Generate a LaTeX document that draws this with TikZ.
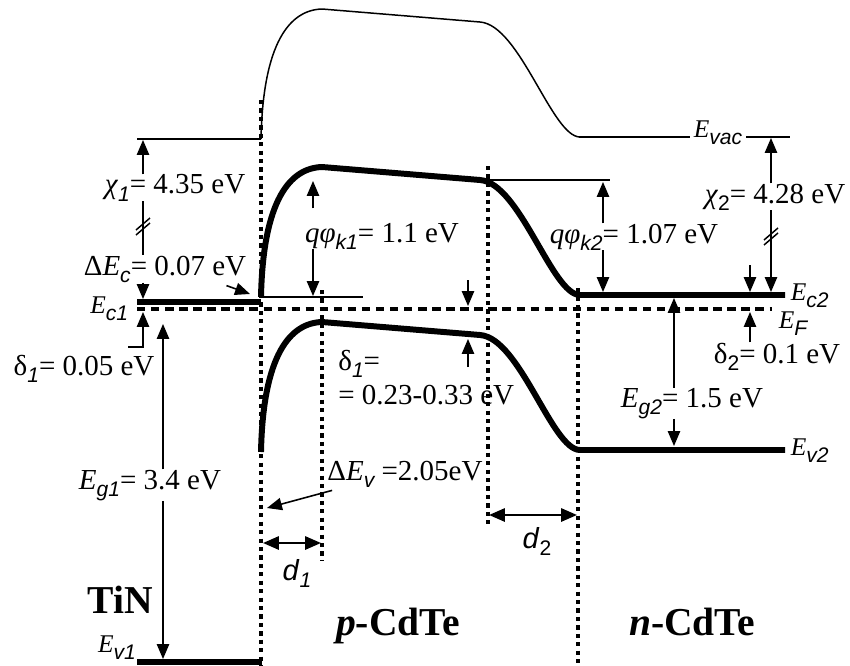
\documentclass[tikz,border=0pt]{standalone}
\usepackage{fontspec}
\setmainfont{Liberation Serif}
\setsansfont{Liberation Sans}
\usetikzlibrary{arrows.meta,positioning}
\newcommand{\sub}[1]{\raisebox{-4pt}{\fontsize{12}{12}\selectfont\sffamily\itshape #1}}
\newcommand{\subup}[1]{\raisebox{-4pt}{\fontsize{12}{12}\selectfont\sffamily #1}}

\begin{document}
\begin{tikzpicture}[
  x=0.02cm, y=-0.02cm,
  lbl/.style={inner sep=0pt, anchor=base, font=\fontsize{16.5}{19.5}\selectfont},
  lvl/.style={inner ysep=0pt, inner xsep=2pt, font=\fontsize{14.5}{16}\selectfont},
  region/.style={inner sep=0pt, anchor=base, font=\fontsize{22.5}{25}\selectfont\bfseries},
  thinline/.style={line width=0.85pt},
  bandline/.style={line width=3.4pt},
  fermi/.style={line width=1.9pt, dash pattern=on 4.8pt off 3.2pt},
  guide/.style={line width=1.9pt, dash pattern=on 2.4pt off 2.4pt},
  arr/.style={line width=0.9pt, -{Triangle[length=8.5pt,width=7pt]}},
  dbl/.style={line width=1.2pt, {Triangle[length=9pt,width=7.5pt]}-{Triangle[length=9pt,width=7.5pt]}},
  bandpath/.style={insert path={(261,297) .. controls (263,200) and (290,168) .. (322,167) -- (480,180) .. controls (520,183) and (552,295) .. (580,295)}}
]
\useasboundingbox (0,0) rectangle (850,666);
\draw[guide] (261,100) -- (261,666);
\draw[guide] (322,290) -- (322,560);
\draw[guide] (488,166) -- (488,528);
\draw[guide] (578,288) -- (578,666);
\draw[fermi] (137,309) -- (772,309);
\draw[thinline] (137,139) -- (261,139);
\draw[thinline, shift={(0,-158)}, bandpath];
\draw[bandline, bandpath] -- (785,295);
\draw[bandline, shift={(0,155)}, bandpath] -- ++(205,0);
\draw[bandline] (137,302) -- (261,302);
\draw[bandline] (137,662) -- (262,662);
\draw[thinline] (261,297) -- (363,297);
\draw[thinline] (480,180) -- (610,180);

\node[lvl, anchor=base] (Evac) at (718,137) {\textit{E}\sub{vac}};
\draw[thinline] (579,137) -- (Evac.base west);
\draw[thinline] (Evac.base east) -- (790,137);
\node[lvl, anchor=base east] (Ec1) at (132,313) {\textit{E}\sub{c1}};
\node[lvl, anchor=base west] (Ec2) at (787,300) {\textit{E}\sub{c2}};
\node[lvl, anchor=base west] (EF) at (775,328) {\textit{E}\sub{F}};
\node[lvl, anchor=base west] (Ev2) at (787,455) {\textit{E}\sub{v2}};
\node[lvl, anchor=base] (Ev1) at (117,652) {\textit{E}\sub{v1}};

\node[lbl] (chi1) at (175,194) {\textit{χ}\sub{1}= 4.35 eV};
\node[lbl] (dEc) at (165,275) {Δ\textit{E}\sub{c}= 0.07 eV};
\node[lbl] (del1) at (84,375) {δ\sub{1}= 0.05 eV};
\node[lbl] (Eg1) at (150,489) {\textit{E}\sub{g1}= 3.4 eV};
\node[region] (tin) at (120,613) {TiN};
\node[lbl] (qk1) at (382,242) {\textit{qφ}\sub{k1}= 1.1 eV};
\node[lbl, anchor=north west, align=left] (del1m) at (338,350) {δ\sub{1}=\\= 0.23-0.33 eV};
\node[lbl] (dEv) at (405,480) {Δ\textit{E}\sub{v} =2.05eV};
\node[lbl] (qk2) at (634,243) {\textit{qφ}\sub{k2}= 1.07 eV};
\node[lbl] (chi2) at (775,203) {\textit{χ}\subup{2}= 4.28 eV};
\node[lbl] (del2) at (777,363) {δ\subup{2}= 0.1 eV};
\node[lbl] (Eg2) at (692,407) {\textit{E}\sub{g2}= 1.5 eV};
\node[lbl] (d1) at (297,580) {\textsf{\textit{d}}\sub{1}};
\node[lbl] (d2) at (537,548) {\textsf{\textit{d}}\subup{2}};
\node[region] (pside) at (398,635) {\textit{p}-CdTe};
\node[region] (nside) at (692,635) {\textit{n}-CdTe};

\coordinate (vacL) at (143,140);
\coordinate (c1) at (143,299);
\coordinate (f1) at (143,312);
\coordinate (f1c) at (128,347);
\coordinate (g1t) at (163,324);
\coordinate (g1b) at (163,659);
\coordinate (cTip) at (250,294);
\coordinate (k1t) at (313,181);
\coordinate (k1b) at (313,296);
\coordinate (m1a) at (468,280);
\coordinate (m1b) at (468,306);
\coordinate (m2a) at (468,367);
\coordinate (m2b) at (468,339);
\coordinate (k2t) at (603,182);
\coordinate (k2b) at (603,292);
\coordinate (vacR) at (771,138);
\coordinate (c2) at (771,292);
\coordinate (d2a) at (750,265);
\coordinate (d2b) at (750,292);
\coordinate (f2) at (750,312);
\coordinate (g2t) at (674,298);
\coordinate (g2b) at (674,446);
\coordinate (vTip) at (267,508);
\coordinate (d1L) at (263,543);
\coordinate (d1R) at (321,543);
\coordinate (d2L) at (489,515);
\coordinate (d2R) at (577,515);

\draw[arr] (chi1.north -| vacL) -- (vacL);
\draw[thinline] (chi1.south -| vacL) -- (dEc.north -| vacL);
\draw[arr] (dEc.south -| vacL) -- (c1);
\draw[arr] (f1c) -- (f1c -| f1) -- (f1);
\draw[arr] (Eg1.north -| g1t) -- (g1t);
\draw[arr] (Eg1.south -| g1t) -- (g1b);
\draw[arr] ([shift={(-20,3)}]dEc.south east) -- (cTip);
\draw[arr, shorten <=8pt] (qk1.north -| k1t) -- (k1t);
\draw[arr] (qk1.south -| k1t) -- (k1b);
\draw[arr] (m1a) -- (m1b);
\draw[arr] (m2a) -- (m2b);
\draw[arr] (qk2.north -| k2t) -- (k2t);
\draw[arr] (qk2.south -| k2t) -- (k2b);
\draw[arr] (chi2.north -| vacR) -- (vacR);
\draw[arr] (chi2.south -| vacR) -- (c2);
\draw[arr] (d2a) -- (d2b);
\draw[arr] (del2.north -| f2) -- (f2);
\draw[arr] (Eg2.north -| g2t) -- (g2t);
\draw[arr] (Eg2.south -| g2t) -- (g2b);
\draw[arr] ([shift={(5,3)}]dEv.south west) -- (vTip);
\draw[dbl] (d1L) -- (d1R);
\draw[dbl] (d2L) -- (d2R);
\foreach \bx/\by in {143/226, 771/236} {
  \draw[thinline] (\bx-7,\by+4) -- ++(14,-12);
  \draw[thinline] (\bx-7,\by+9) -- ++(14,-12);
}
\end{tikzpicture}
\end{document}
